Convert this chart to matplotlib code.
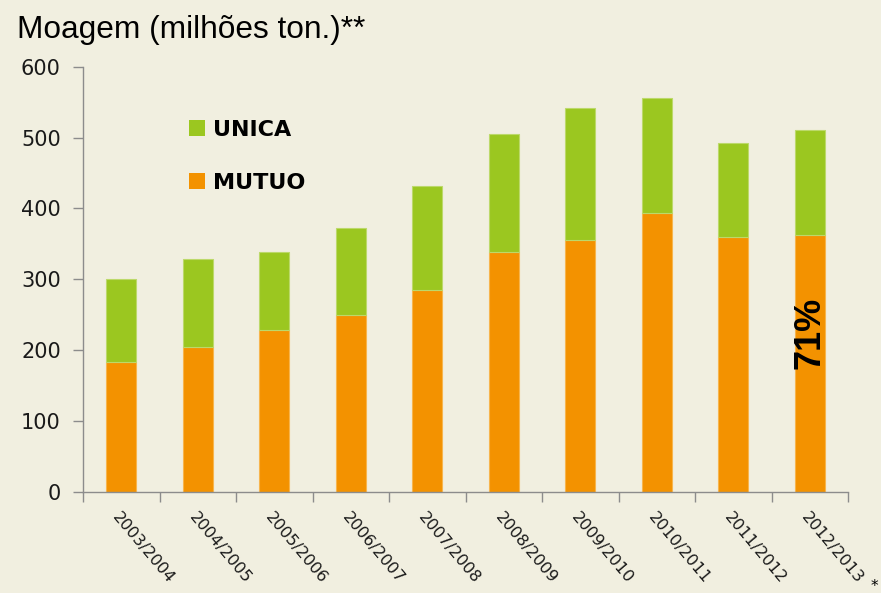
import matplotlib
matplotlib.use("Agg")
import matplotlib.pyplot as plt
import numpy as np
from matplotlib.patches import Patch

seasons = ["2003/2004", "2004/2005", "2005/2006", "2006/2007", "2007/2008",
           "2008/2009", "2009/2010", "2010/2011", "2011/2012", "2012/2013"]
mutuo = [183, 204, 228, 249, 285, 339, 356, 394, 360, 362]
unica = [117, 125, 110, 123, 146, 166, 185, 162, 132, 149]
yticks = [0, 100, 200, 300, 400, 500, 600]

BG = "#F1EFE0"
GREEN = "#9BC720"
ORANGE = "#F39200"
GREY = "#8C8C8C"

fig = plt.figure(figsize=(8.81, 5.93), dpi=100, facecolor=BG)
ax = fig.add_axes([83 / 881, 1 - 491.7 / 593, (848 - 83) / 881, (491.7 - 66.7) / 593])
ax.set_facecolor(BG)

x = np.arange(len(seasons))
w = 0.39
b1 = ax.bar(x, mutuo, width=w, color=ORANGE, edgecolor="#F7B54D", linewidth=0.8, zorder=2)
b2 = ax.bar(x, unica, width=w, bottom=mutuo, color=GREEN, edgecolor="#BCD96A", linewidth=0.8, zorder=2)

ax.set_xlim(-0.5, len(seasons) - 0.5)
ax.set_ylim(0, 600)
ax.set_yticks(yticks)
ax.set_yticklabels([str(v) for v in yticks], fontsize=15, family="DejaVu Sans", color="#1a1a1a")
ax.tick_params(axis="y", direction="out", length=7, width=1, color=GREY, pad=9)

ax.set_xticks(x)
ax.set_xticklabels(seasons, rotation=-50, ha="left", va="top", rotation_mode="anchor",
                   fontsize=11.6, family="DejaVu Sans", color="#1a1a1a")
ax.tick_params(axis="x", which="major", length=0, pad=13)
ax.set_xticks(np.arange(-0.5, len(seasons), 1.0), minor=True)
ax.tick_params(axis="x", which="minor", direction="out", length=7, width=1, color=GREY)

for s in ["top", "right"]:
    ax.spines[s].set_visible(False)
for s in ["left", "bottom"]:
    ax.spines[s].set_color(GREY)
    ax.spines[s].set_linewidth(1)

handles = [Patch(facecolor=GREEN, edgecolor="none", label="UNICA"),
           Patch(facecolor=ORANGE, edgecolor="none", label="MUTUO")]
leg = ax.legend(handles=handles, loc="upper left", bbox_to_anchor=(0.138, 0.875),
                frameon=False, prop={"family": "DejaVu Sans", "weight": "bold", "size": 16},
                handlelength=0.72, handleheight=0.72, handletextpad=0.38, labelspacing=1.5,
                borderpad=0, borderaxespad=0)

total_last = mutuo[-1] + unica[-1]
pct = round(mutuo[-1] / total_last * 100)
ax.text(x[-1], mutuo[-1] * 0.62, f"{pct}%", rotation=90, ha="center", va="center",
        fontsize=26, fontweight="bold", family="Liberation Sans", color="black", zorder=3)

fig.text(17 / 881, 1 - 30 / 593, "Moagem (milhões ton.)**", fontsize=22.8,
         family="Liberation Sans", va="center", ha="left", color="black")
fig.text(874 / 881, 1 - 587 / 593, "*", fontsize=11, family="DejaVu Sans",
         ha="center", va="center", color="black")

fig.savefig("out.png", dpi=100, facecolor=BG)
